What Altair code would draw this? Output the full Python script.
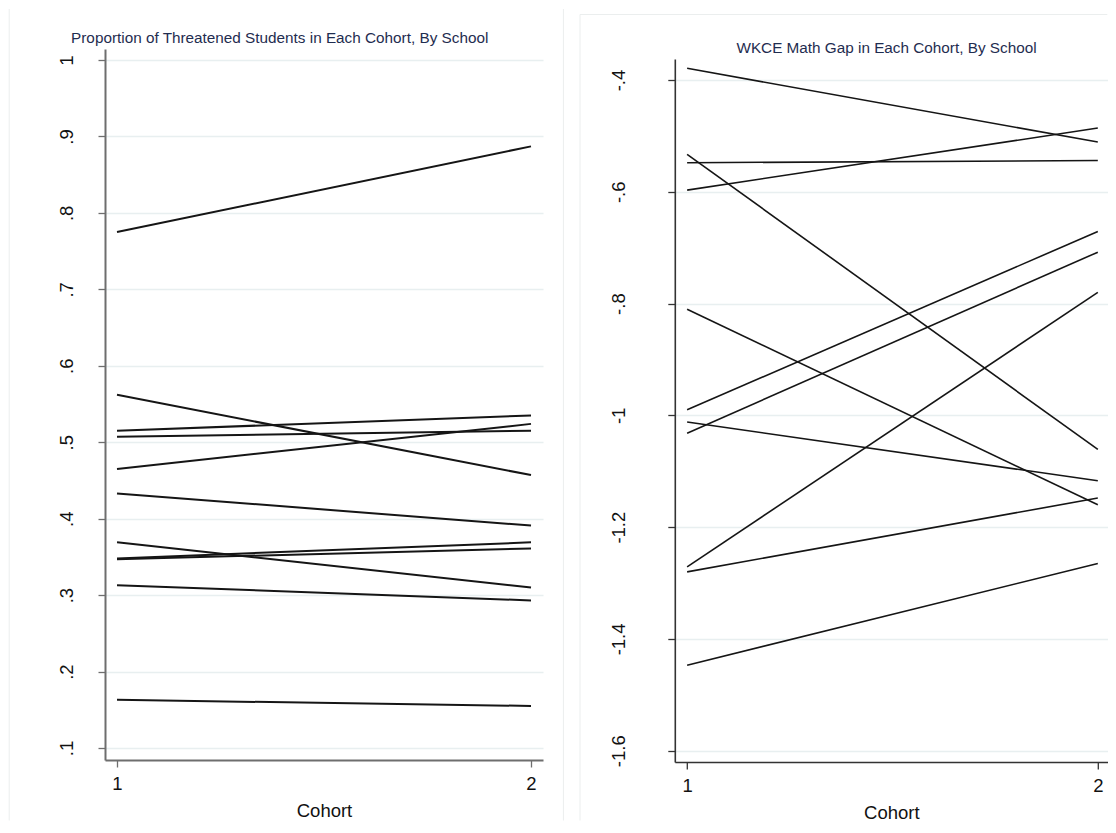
import altair as alt
import pandas as pd

FONT = "Liberation Sans"

# ---------------- data ----------------
COHORTS = [1, 2]

LEFT_TITLE = "Proportion of Threatened Students in Each Cohort, By School"
LEFT_SCHOOLS = ["A", "B", "C", "D", "E", "F", "G", "H", "I", "J", "K"]
LEFT_C1 = [0.775, 0.562, 0.515, 0.507, 0.465, 0.433, 0.369, 0.348, 0.347, 0.313, 0.163]
LEFT_C2 = [0.887, 0.457, 0.535, 0.515, 0.524, 0.391, 0.310, 0.369, 0.361, 0.293, 0.155]
LEFT_TICKS = [0.1, 0.2, 0.3, 0.4, 0.5, 0.6, 0.7, 0.8, 0.9, 1.0]
LEFT_TICK_LABELS = [".1", ".2", ".3", ".4", ".5", ".6", ".7", ".8", ".9", "1"]

RIGHT_TITLE = "WKCE Math Gap in Each Cohort, By School"
RIGHT_SCHOOLS = ["A", "B", "C", "D", "E", "F", "G", "H", "I", "J", "K"]
RIGHT_C1 = [-0.379, -0.533, -0.548, -0.597, -0.810, -0.990, -1.032, -1.012, -1.271, -1.280, -1.447]
RIGHT_C2 = [-0.511, -1.061, -0.544, -0.486, -1.160, -0.671, -0.708, -1.117, -0.780, -1.148, -1.265]
RIGHT_TICKS = [-1.6, -1.4, -1.2, -1.0, -0.8, -0.6, -0.4]
RIGHT_TICK_LABELS = ["-1.6", "-1.4", "-1.2", "-1", "-.8", "-.6", "-.4"]

X_TICKS = [1, 2]
X_TITLE = "Cohort"


def long_df(schools, c1, c2):
    rows = []
    for s, a, b in zip(schools, c1, c2):
        rows.append({"school": s, "cohort": COHORTS[0], "value": a})
        rows.append({"school": s, "cohort": COHORTS[1], "value": b})
    return pd.DataFrame(rows)


def label_expr(ticks, labels):
    expr = "''"
    for t, l in reversed(list(zip(ticks, labels))):
        expr = f"abs(datum.value - ({t})) < 1e-6 ? '{l}' : ({expr})"
    return expr


left_df = long_df(LEFT_SCHOOLS, LEFT_C1, LEFT_C2)
right_df = long_df(RIGHT_SCHOOLS, RIGHT_C1, RIGHT_C2)

LABEL_SIZE = 18.5
TITLE_SIZE = 15.3
TITLE_COLOR = "#1f2d50"
GRID_COLOR = "#e8eff0"
FRAME_COLOR = "#ebeeee"


def x_axis(domain_color, domain_width):
    return alt.Axis(
        values=X_TICKS, format="d", title=X_TITLE, grid=False,
        labelFont=FONT, labelFontSize=LABEL_SIZE, labelColor="#111111",
        titleFont=FONT, titleFontSize=LABEL_SIZE, titleFontWeight="normal",
        titleColor="#111111", labelPadding=7.5, titlePadding=8.5,
        tickSize=7, tickColor=domain_color, tickWidth=1.3,
        domainColor=domain_color, domainWidth=domain_width,
        labelFlush=False, labelOverlap=False,
    )


def y_axis(ticks, labels, domain_color, domain_width, pad):
    return alt.Axis(
        values=ticks, labelExpr=label_expr(ticks, labels), title=None,
        grid=True, gridColor=GRID_COLOR, gridWidth=1.3,
        labelFont=FONT, labelFontSize=LABEL_SIZE, labelColor="#111111",
        labelAngle=270, labelAlign="center", labelBaseline="bottom",
        labelPadding=pad, tickSize=7, tickColor=domain_color, tickWidth=1.3,
        domainColor=domain_color, domainWidth=domain_width,
        labelFlush=False, labelOverlap=False,
    )


def frame_rule(x1, x2, y1, y2):
    # faint edge of the graph region around each panel
    return alt.Chart(pd.DataFrame({"s": [0]})).mark_rule(
        color=FRAME_COLOR, strokeWidth=1
    ).encode(x=alt.value(x1), x2=alt.value(x2), y=alt.value(y1), y2=alt.value(y2))


def title_text(text, x, y):
    return alt.Chart(pd.DataFrame({"t": [text]})).mark_text(
        font=FONT, fontSize=TITLE_SIZE, color=TITLE_COLOR,
        align="center", baseline="alphabetic",
    ).encode(text="t:N", x=alt.value(x), y=alt.value(y))


left_lines = alt.Chart(left_df).mark_line(color="#151515", strokeWidth=2).encode(
    x=alt.X("cohort:Q", scale=alt.Scale(domain=[0.971, 2.029], nice=False, zero=False),
            axis=x_axis("#6e6e6e", 2)),
    y=alt.Y("value:Q", scale=alt.Scale(domain=[0.0843, 1.0144], nice=False, zero=False),
            axis=y_axis(LEFT_TICKS, LEFT_TICK_LABELS, "#6e6e6e", 2, 21.5)),
    detail="school:N",
)

left = alt.layer(
    left_lines,
    title_text(LEFT_TITLE, 174.7, -6.5),
    frame_rule(-95.8, -95.8, -40, 771.5),
    frame_rule(458.4, 458.4, -40, 771.5),
).properties(width=438, height=711)

right_lines = alt.Chart(right_df).mark_line(color="#151515", strokeWidth=1.6).encode(
    x=alt.X("cohort:Q", scale=alt.Scale(domain=[0.97, 2.0243], nice=False, zero=False),
            axis=x_axis("#333333", 1.6)),
    y=alt.Y("value:Q", scale=alt.Scale(domain=[-1.6202, -0.3624], range=[713, 10],
                                       nice=False, zero=False),
            axis=y_axis(RIGHT_TICKS, RIGHT_TICK_LABELS, "#333333", 1.6, 39.5)),
    detail="school:N",
)

right = alt.layer(
    right_lines,
    title_text(RIGHT_TITLE, 211.7, 4),
    frame_rule(-94.8, -94.8, -34.5, 771.5),
    frame_rule(-94.8, 432.5, -34.5, -34.5),
).properties(width=433, height=713)

chart = alt.hconcat(left, right, spacing=14.8).properties(
    padding={"top": 0, "left": 0, "right": 0, "bottom": 0},
    background="white",
).configure_view(stroke=None)

chart.save("out.html", embed_options={"renderer": "svg", "actions": False})
